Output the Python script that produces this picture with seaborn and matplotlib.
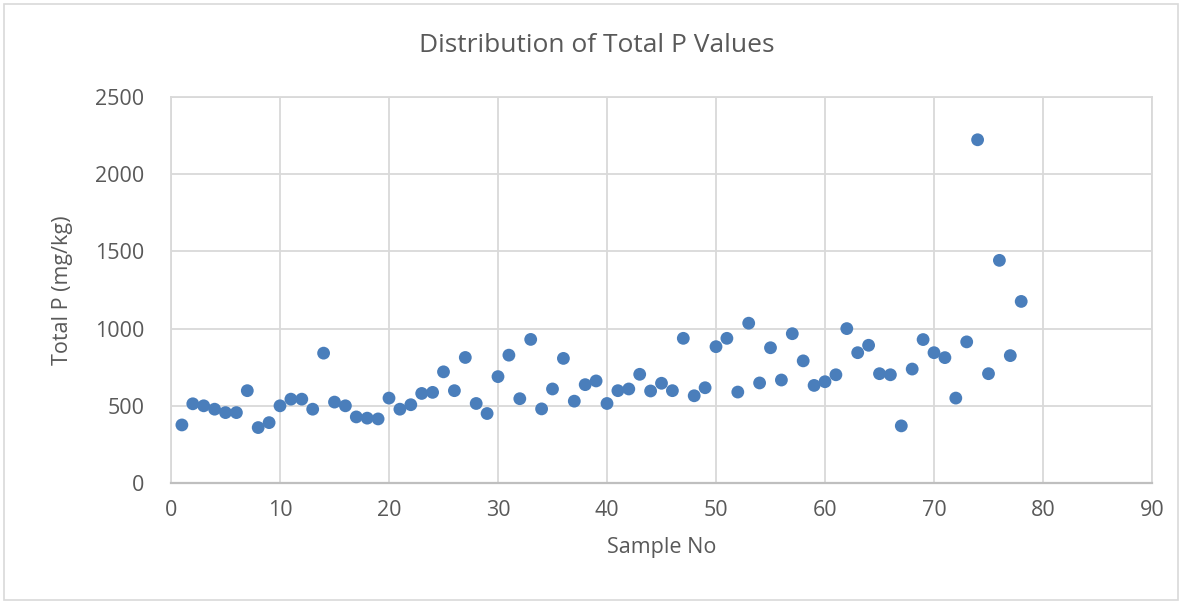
import matplotlib
matplotlib.use("Agg")
import matplotlib.pyplot as plt
import matplotlib.patches as mpatches
import seaborn as sns
import pandas as pd
from matplotlib import font_manager

sample_no = list(range(1, 79))
total_p = [
    376, 513, 500, 478, 456, 456, 598, 359, 391, 500,
    543, 543, 478, 841, 524, 500, 428, 420, 415, 550,
    478, 507, 580, 587, 720, 598, 813, 515, 450, 689,
    828, 546, 930, 480, 609, 807, 530, 637, 661, 515,
    598, 609, 704, 596, 646, 598, 937, 565, 617, 883,
    937, 589, 1035, 648, 876, 667, 967, 791, 632, 656,
    701, 1000, 844, 892, 708, 701, 370, 738, 929, 844,
    812, 550, 914, 2223, 708, 1442, 825, 1176,
]
x_ticks = list(range(0, 91, 10))
y_ticks = list(range(0, 2501, 500))

title = "Distribution of Total P Values"
x_label = "Sample No"
y_label = "Total P (mg/kg)"

df = pd.DataFrame({"Sample No": sample_no, "Total P": total_p})

sns.set_theme(style="white")
avail = {f.name for f in font_manager.fontManager.ttflist}
fam = [f for f in ["Open Sans", "DejaVu Sans"] if f in avail]
plt.rcParams["font.family"] = fam

text_col = "#595959"
grid_col = "#d9d9d9"

fig = plt.figure(figsize=(11.84, 6.04), dpi=100)
ax = fig.add_axes([171 / 1184, 1 - 483 / 604, (1152 - 171) / 1184, (483 - 97) / 604])

sns.scatterplot(data=df, x="Sample No", y="Total P", ax=ax, color="#4a7ebb",
                s=85, edgecolor="none", zorder=3, legend=False)

ax.set_xlim(0, 90)
ax.set_ylim(0, 2500)
ax.set_xticks(x_ticks)
ax.set_yticks(y_ticks)
ax.grid(True, color=grid_col, linewidth=1.3, zorder=0)
ax.set_axisbelow(True)
for side, sp in ax.spines.items():
    sp.set_color(grid_col)
    sp.set_linewidth(1.3)
ax.spines["bottom"].set_color("#bfbfbf")
ax.spines["bottom"].set_linewidth(1.6)

ax.tick_params(axis="both", length=0, labelsize=15.5, colors=text_col)
ax.tick_params(axis="y", pad=19)
ax.tick_params(axis="x", pad=12)

ax.set_xlabel(x_label, fontsize=15.5, color=text_col, labelpad=12)
ax.set_ylabel(y_label, fontsize=15.5, color=text_col, labelpad=16)
fig.text(596.5 / 1184, 1 - 46 / 604, title, fontsize=19, color=text_col,
         ha="center", va="center")

fig.patches.append(mpatches.Rectangle((4 / 1184, 4 / 604), 1174 / 1184, 596 / 604,
                                      transform=fig.transFigure, fill=False,
                                      edgecolor="#d9d9d9", linewidth=1.2))

fig.savefig("out.png", dpi=100)
